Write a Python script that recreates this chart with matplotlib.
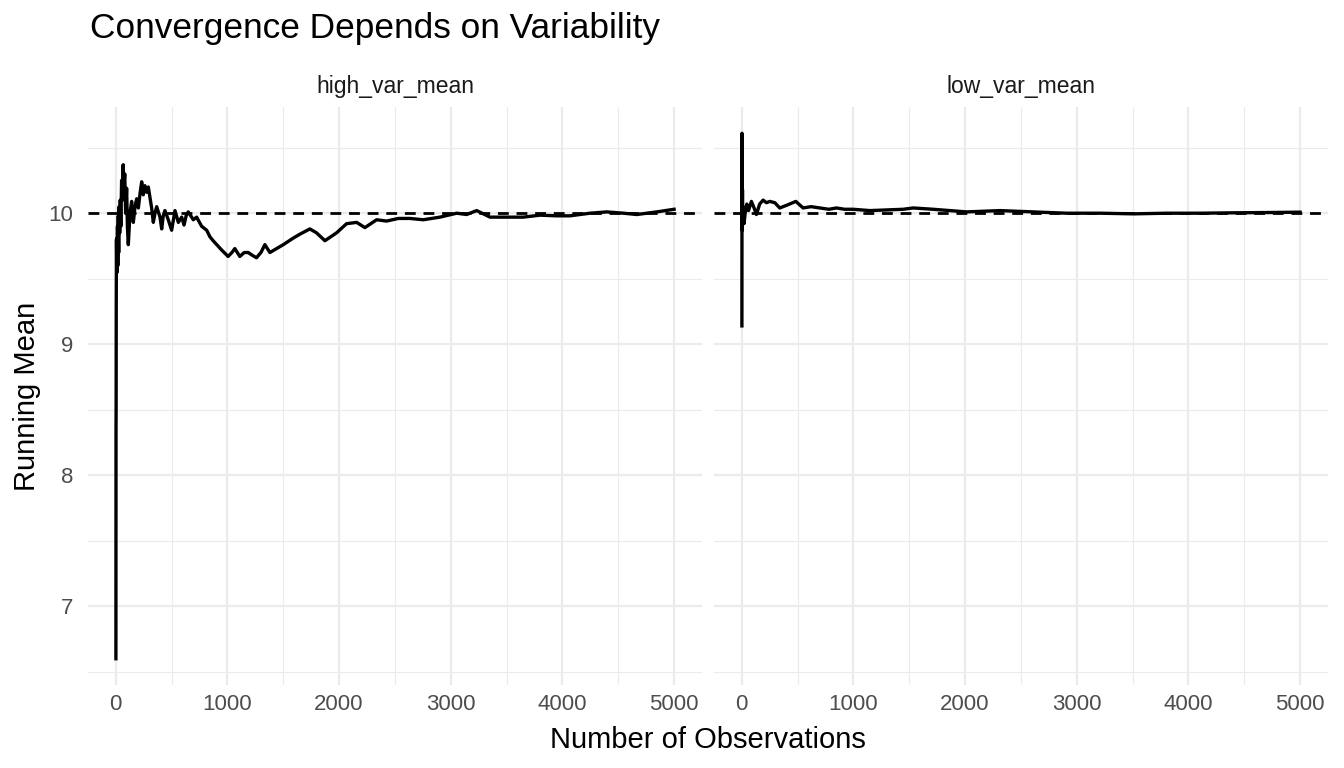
import matplotlib
matplotlib.use("Agg")
import matplotlib.pyplot as plt
import numpy as np

plt.rcParams['font.family'] = ['Liberation Sans', 'DejaVu Sans']

# ---- data ----
panels = ["high_var_mean", "low_var_mean"]
true_mean = 10

high_n = [1, 2, 3, 4, 5, 6, 8, 10, 12, 15, 18, 22, 26, 30, 35, 40, 45, 52, 58, 66,
          72, 80, 88, 97, 104, 112, 127, 142, 157, 172, 187, 202, 217, 232, 246, 261,
          276, 291, 321, 336, 351, 366, 396, 411, 425, 440, 470, 500, 530, 560, 590,
          611, 630, 649, 694, 724, 769, 814, 843, 872, 947,
          1006, 1040, 1066, 1111, 1150, 1186, 1220, 1260, 1300, 1335, 1380, 1440,
          1500, 1589, 1649, 1738, 1798, 1873, 1977, 2067, 2157, 2231, 2336, 2425,
          2530, 2634, 2754, 2903, 3053, 3142, 3232, 3351, 3500, 3650, 3799, 3948,
          4068, 4247, 4397, 4546, 4666, 4845, 5000]
high_mean = [6.6, 8.35, 8.55, 9.3, 9.55, 9.8, 9.6, 9.81, 9.55, 9.9, 9.6, 9.98, 9.7,
             10.05, 9.85, 10.1, 9.9, 10.25, 10.1, 10.37,
             10.2, 10.3, 10.0, 10.19, 9.9, 9.76, 10.0, 10.09, 9.93, 10.05, 10.11, 10.04,
             10.15, 10.24, 10.14, 10.21,
             10.16, 10.2, 10.04, 9.93, 10.0, 10.05, 9.97, 9.88, 9.98, 10.02, 9.95, 9.87,
             10.02, 9.93, 9.97,
             9.91, 9.98, 10.01, 9.95, 9.97, 9.90, 9.87, 9.82, 9.79, 9.72,
             9.67, 9.70, 9.73, 9.67, 9.70, 9.70, 9.68, 9.66, 9.70, 9.76, 9.70, 9.73,
             9.76, 9.81, 9.84, 9.88, 9.85, 9.79, 9.85, 9.92, 9.93, 9.89, 9.95, 9.94,
             9.96, 9.96, 9.95, 9.97, 10.0, 9.99, 10.02, 9.97, 9.97, 9.97, 9.985, 9.98,
             9.98, 10.0, 10.01, 10.0, 9.99, 10.01, 10.03]

low_n = [1, 2, 3, 4, 6, 8, 12, 20, 30, 45, 60, 86, 110, 131, 160, 191, 220, 251,
         296, 340, 400, 484, 549, 620, 699, 780, 848, 920, 997, 1147, 1296, 1446,
         1535, 1714, 2013, 2312, 2611, 2909, 3208, 3507, 3806, 4104, 4403, 4702, 5000]
low_mean = [9.14, 10.61, 10.2, 9.87, 10.18, 9.95, 10.05, 9.92, 10.0, 10.07, 10.02,
            10.09, 10.04, 9.99, 10.07, 10.1, 10.08, 10.09, 10.08, 10.04, 10.06, 10.09,
            10.04, 10.05, 10.04, 10.03, 10.04, 10.03, 10.03, 10.02, 10.025, 10.03,
            10.04, 10.03, 10.01, 10.02, 10.01, 10.0, 10.0, 9.995, 10.0, 10.0, 10.003,
            10.005, 10.008]

x_major = [0, 1000, 2000, 3000, 4000, 5000]
x_minor = [500, 1500, 2500, 3500, 4500]
y_major = [7, 8, 9, 10]
y_minor = [6.5, 7.5, 8.5, 9.5, 10.5]

series = [(high_n, high_mean), (low_n, low_mean)]

# ---- figure ----
W, H = 1344, 768
fig = plt.figure(figsize=(W / 100, H / 100), dpi=100)

def px_rect(l, t, r, b):
    return [l / W, 1 - b / H, (r - l) / W, (b - t) / H]

all_x = np.concatenate([high_n, low_n])
all_y = np.concatenate([high_mean, low_mean])
xlo, xhi = all_x.min(), all_x.max()
ylo, yhi = all_y.min(), all_y.max()
xpad = 0.05 * (xhi - xlo)
ypad = 0.05 * (yhi - ylo)

panel_px = [(88, 107, 702, 685), (714, 107, 1328, 685)]
grid_col = "#EBEBEB"
for i, (name, (xs, ys)) in enumerate(zip(panels, series)):
    ax = fig.add_axes(px_rect(*panel_px[i]))
    ax.set_xlim(xlo - xpad, xhi + xpad)
    ax.set_ylim(ylo - ypad, yhi + ypad)
    for s in ax.spines.values():
        s.set_visible(False)
    ax.set_xticks(x_major)
    ax.set_xticks(x_minor, minor=True)
    ax.set_yticks(y_major)
    ax.set_yticks(y_minor, minor=True)
    ax.grid(which="major", color=grid_col, lw=1.6)
    ax.grid(which="minor", color=grid_col, lw=0.8)
    ax.set_axisbelow(True)
    ax.tick_params(which="both", length=0)
    ax.tick_params(axis="x", labelsize=16, labelcolor="#4D4D4D", pad=6.5)
    ax.tick_params(axis="y", labelsize=16, labelcolor="#4D4D4D", pad=10.5)
    if i == 1:
        ax.tick_params(axis="y", labelleft=False)
    ax.axhline(true_mean, color="black", lw=2.0, linestyle=(0, (3.9, 2.8)), zorder=2)
    ax.plot(xs, ys, color="black", lw=2.4, solid_joinstyle="round", zorder=3)
    cx = (panel_px[i][0] + panel_px[i][2]) / 2
    fig.text(cx / W, 1 - 87 / H, name, ha="center", va="center",
             fontsize=16.5, color="#1A1A1A")

fig.text(90 / W, 1 - 38 / H, "Convergence Depends on Variability",
         ha="left", va="baseline", fontsize=25.4, color="black")
fig.text(708 / W, 1 - 748 / H, "Number of Observations",
         ha="center", va="baseline", fontsize=21, color="black")
fig.text(35 / W, 1 - 396 / H, "Running Mean", rotation=90, rotation_mode="anchor",
         ha="center", va="baseline", fontsize=21, color="black")

fig.savefig("out.png", dpi=100, facecolor="white")
